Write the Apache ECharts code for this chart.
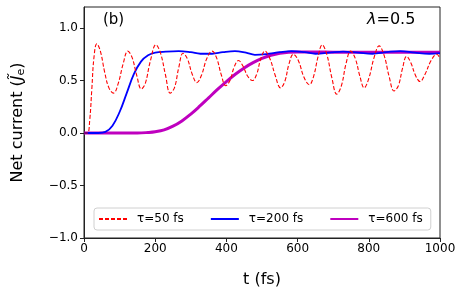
<!DOCTYPE html>
<html>
<head>
<meta charset="utf-8">
<script src="https://cdn.jsdelivr.net/npm/echarts@6/dist/echarts.min.js"></script>
<style>html,body{margin:0;padding:0;background:#fff}#c{width:463px;height:300px}</style>
</head>
<body>
<div id="c"></div>
<script>
// Data
var seriesNames = ['\u03c4=50 fs', '\u03c4=200 fs', '\u03c4=600 fs'];
var xTicks = [0, 200, 400, 600, 800, 1000];
var yTicks = [-1.0, -0.5, 0.0, 0.5, 1.0];

var t50 = [0, 10, 16, 22, 28, 36, 46, 58, 70, 83, 96, 110, 123, 135, 148, 161, 172, 186, 202, 215, 229, 242, 254, 266, 278, 290, 304, 317, 330, 345, 360, 372, 386, 398, 410, 422, 434, 446, 460, 473, 485, 496, 508, 522, 537, 552, 564, 576, 588, 602, 618, 633, 645, 657, 669, 682, 696, 710, 723, 736, 749, 762, 775, 787, 800, 815, 829, 843, 857, 871, 883, 895, 906, 918, 931, 944, 958, 975, 991, 1000];
var v50 = [0, 0, 0.12, 0.42, 0.72, 0.85, 0.78, 0.58, 0.43, 0.38, 0.47, 0.66, 0.78, 0.72, 0.55, 0.42, 0.47, 0.68, 0.84, 0.76, 0.55, 0.38, 0.43, 0.62, 0.76, 0.71, 0.56, 0.48, 0.55, 0.71, 0.78, 0.72, 0.55, 0.45, 0.50, 0.63, 0.69, 0.64, 0.54, 0.50, 0.56, 0.70, 0.78, 0.71, 0.55, 0.43, 0.49, 0.66, 0.75, 0.69, 0.53, 0.46, 0.54, 0.72, 0.84, 0.75, 0.53, 0.37, 0.45, 0.66, 0.78, 0.71, 0.54, 0.43, 0.52, 0.72, 0.83, 0.74, 0.54, 0.40, 0.45, 0.62, 0.73, 0.67, 0.55, 0.49, 0.56, 0.69, 0.75, 0.71];

var t200 = [0, 40, 60, 80, 100, 120, 140, 160, 180, 200, 230, 266, 300, 327, 360, 390, 424, 455, 480, 520, 550, 583, 620, 650, 690, 728, 770, 810, 850, 888, 930, 970, 1000];
var v200 = [0, 0, 0.01, 0.07, 0.2, 0.38, 0.56, 0.68, 0.74, 0.765, 0.775, 0.78, 0.77, 0.755, 0.755, 0.77, 0.78, 0.765, 0.745, 0.755, 0.77, 0.78, 0.77, 0.755, 0.765, 0.775, 0.765, 0.755, 0.77, 0.78, 0.765, 0.755, 0.76];

var t600 = [0, 150, 180, 200, 225, 250, 275, 300, 325, 350, 375, 400, 425, 450, 475, 500, 525, 550, 575, 600, 650, 700, 800, 900, 1000];
var v600 = [0, 0, 0.005, 0.012, 0.03, 0.065, 0.115, 0.18, 0.255, 0.335, 0.415, 0.49, 0.56, 0.62, 0.67, 0.71, 0.74, 0.76, 0.77, 0.772, 0.772, 0.77, 0.77, 0.77, 0.768];

function pairs(t, v) { return t.map(function (x, i) { return [x, v[i]]; }); }

var FONT = 'DejaVu Sans';
var chart = echarts.init(document.getElementById('c'), null, {renderer: 'canvas'});
chart.setOption({
  animation: false,
  backgroundColor: '#fff',
  textStyle: {fontFamily: FONT},
  grid: {left: 84, right: 23, top: 7, bottom: 62, show: true, borderColor: '#222', borderWidth: 1, backgroundColor: 'transparent'},
  xAxis: {
    type: 'value', min: 0, max: 1000, interval: 200,
    name: 't (fs)', nameLocation: 'middle', nameGap: 34,
    nameTextStyle: {fontFamily: FONT, fontSize: 16, color: '#000'},
    axisLine: {show: true, onZero: false, lineStyle: {color: '#222', width: 1}},
    axisTick: {show: true, inside: false, length: 4, lineStyle: {color: '#222'}, customValues: xTicks},
    axisLabel: {fontFamily: FONT, fontSize: 12, color: '#000', margin: 5, customValues: xTicks,
      formatter: function (v) { return String(v); }},
    splitLine: {show: false}
  },
  yAxis: {
    type: 'value', min: -1, max: 1.2, interval: 0.5,
    name: 'Net current ({j|J\u0303}{sub|e})', nameLocation: 'middle', nameGap: 57,
    nameTextStyle: {fontFamily: FONT, fontSize: 16, color: '#000',
      rich: {
        j: {fontFamily: FONT, fontSize: 16, fontStyle: 'italic', color: '#000'},
        sub: {fontFamily: FONT, fontSize: 11, color: '#000', padding: [8, 0, 0, 0]}
      }},
    axisLine: {show: true, onZero: false, lineStyle: {color: '#222', width: 1}},
    axisTick: {show: true, inside: false, length: 4, lineStyle: {color: '#222'}, customValues: yTicks},
    axisLabel: {fontFamily: FONT, fontSize: 12, color: '#000', margin: 6, customValues: yTicks,
      formatter: function (v) { return v.toFixed(1).replace('-', '\u2212'); }},
    splitLine: {show: false}
  },
  legend: {
    left: 94, top: 208, width: 336,
    itemWidth: 28, itemHeight: 10, itemGap: 26,
    padding: [5, 8, 5, 4],
    borderColor: '#d0d0d0', borderWidth: 1, borderRadius: 3,
    backgroundColor: 'rgba(255,255,255,0.8)',
    itemStyle: {opacity: 0},
    textStyle: {fontFamily: FONT, fontSize: 12, color: '#000', padding: [0, 0, 0, 5]},
    data: seriesNames
  },
  graphic: [
    {type: 'text', left: 103, top: 13, style: {text: '(b)', fontFamily: FONT, fontSize: 15, fill: '#000'}},
    {type: 'text', left: 367, top: 12, style: {text: '{l|\u03bb}=0.5', fontFamily: FONT, fontSize: 16, fill: '#000',
      rich: {l: {fontFamily: FONT, fontSize: 16, fontStyle: 'italic', fill: '#000'}}}}
  ],
  series: [
    {name: seriesNames[0], type: 'line', data: pairs(t50, v50), smooth: 0.4, symbol: 'none', z: 3,
      lineStyle: {color: '#ff0000', width: 1.1, type: [4, 2]}, itemStyle: {color: '#ff0000'}},
    {name: seriesNames[1], type: 'line', data: pairs(t200, v200), smooth: 0.4, symbol: 'none', z: 2,
      lineStyle: {color: '#0000ff', width: 1.8}, itemStyle: {color: '#0000ff'}},
    {name: seriesNames[2], type: 'line', data: pairs(t600, v600), smooth: 0.4, symbol: 'none', z: 1,
      lineStyle: {color: '#bf00bf', width: 3}, itemStyle: {color: '#bf00bf'}}
  ]
});
</script>
</body>
</html>
